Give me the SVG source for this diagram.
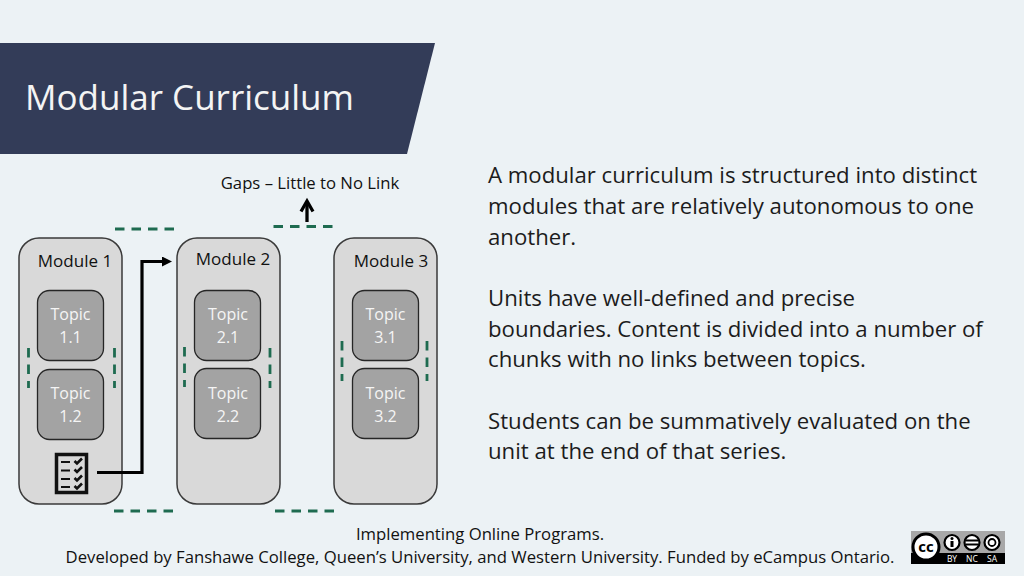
<svg xmlns="http://www.w3.org/2000/svg" width="1024" height="576" viewBox="0 0 1024 576">
<style>
text{font-family:"Open Sans","Noto Sans","Liberation Sans",sans-serif}
.mod{fill:#d9d9d9;stroke:#3a3a3a;stroke-width:1.5}
.top{fill:#a3a3a3;stroke:#262626;stroke-width:1.3}
.ml{font-size:17px;fill:#111;text-anchor:middle}
.tl{font-size:16px;fill:#f5f5f5;text-anchor:middle}
.body{font-size:22.200px;fill:#1c1c1c}
.foot{font-size:16.700px;fill:#111;text-anchor:middle}
.gap{stroke:#1e6b50;stroke-width:2.800;stroke-dasharray:9.500 7;fill:none}
.link{stroke:#000;stroke-width:3.200;fill:none}
</style>
<defs>
<marker id="ah" markerWidth="12" markerHeight="12" refX="1" refY="5" orient="auto" markerUnits="userSpaceOnUse"><path d="M0 0L10 5L0 10z" fill="#000"/></marker>
</defs>
<rect width="1024" height="576" fill="#ecf2f5"/>
<g id="header"><polygon points="0,43 435,43 407,154 0,154" fill="#333c58"/><text x="25" y="110" font-size="35" fill="#f4f4f4">Modular Curriculum</text></g>
<g id="module1"><rect class="mod" x="19" y="238" width="103" height="266" rx="20"/><text class="ml" x="75" y="267">Module 1</text></g>
<g id="module2"><rect class="mod" x="177" y="238" width="103" height="266" rx="20"/><text class="ml" x="233" y="265">Module 2</text></g>
<g id="module3"><rect class="mod" x="334" y="238" width="103" height="266" rx="20"/><text class="ml" x="391" y="267">Module 3</text></g>
<g id="topic11"><rect class="top" x="37.500" y="290.500" width="66" height="70" rx="12"/><text class="tl" x="70.500" y="320">Topic</text><text class="tl" x="70.500" y="343">1.1</text></g>
<g id="topic12"><rect class="top" x="37.500" y="369.500" width="66" height="70" rx="12"/><text class="tl" x="70.500" y="399">Topic</text><text class="tl" x="70.500" y="422">1.2</text></g>
<g id="topic21"><rect class="top" x="194.500" y="290.500" width="66" height="70" rx="12"/><text class="tl" x="228" y="320">Topic</text><text class="tl" x="228" y="343">2.1</text></g>
<g id="topic22"><rect class="top" x="194.500" y="368.500" width="66" height="70" rx="12"/><text class="tl" x="228" y="399">Topic</text><text class="tl" x="228" y="422">2.2</text></g>
<g id="topic31"><rect class="top" x="352.500" y="290.500" width="66" height="70" rx="12"/><text class="tl" x="385.500" y="320">Topic</text><text class="tl" x="385.500" y="343">3.1</text></g>
<g id="topic32"><rect class="top" x="352.500" y="368.500" width="66" height="70" rx="12"/><text class="tl" x="385.500" y="399">Topic</text><text class="tl" x="385.500" y="422">3.2</text></g>
<g id="checklist">
<rect x="56.500" y="454.500" width="30" height="38" fill="none" stroke="#111" stroke-width="3.500"/>
<path d="M61 462h9M61 470.500h9M61 479h9M61 487h9" stroke="#111" stroke-width="2.200" fill="none"/>
<path d="M74.500 461l2.500 2.500l5-5M74.500 469.500l2.500 2.500l5-5M74.500 478l2.500 2.500l5-5M74.500 486l2.500 2.500l5-5" stroke="#111" stroke-width="2.600" fill="none"/>
</g>
<g id="connectors">
<path class="link" d="M97 472.500H142V261.500H163" marker-end="url(#ah)"/>
<path d="M307 222V202" stroke="#000" stroke-width="3.300" fill="none"/>
<path d="M301 211.500L307 201L313 211.500" stroke="#000" stroke-width="3.300" fill="none"/>
<path class="gap" d="M115 229H175"/><path class="gap" d="M114 511H175"/>
<path class="gap" d="M273.500 226.500H334"/><path class="gap" d="M275 511H335"/>
<path class="gap" d="M28.500 348V388"/><path class="gap" d="M114.500 348V388"/>
<path class="gap" d="M184.500 347V387"/><path class="gap" d="M270 348V388"/>
<path class="gap" d="M342 341V381"/><path class="gap" d="M427 341V381"/>
</g>
<g id="gaps-label"><text x="310" y="189" font-size="16.700" fill="#111" text-anchor="middle">Gaps – Little to No Link</text></g>
<g id="body">
<text class="body" x="488" y="183">A modular curriculum is structured into distinct</text>
<text class="body" x="488" y="214">modules that are relatively autonomous to one</text>
<text class="body" x="488" y="245">another.</text>
<text class="body" x="488" y="306">Units have well-defined and precise</text>
<text class="body" x="488" y="337">boundaries. Content is divided into a number of</text>
<text class="body" x="488" y="367">chunks with no links between topics.</text>
<text class="body" x="488" y="429">Students can be summatively evaluated on the</text>
<text class="body" x="488" y="459">unit at the end of that series.</text>
</g>
<g id="footer">
<text class="foot" x="480" y="540">Implementing Online Programs.</text>
<text class="foot" x="480" y="563">Developed by Fanshawe College, Queen’s University, and Western University. Funded by eCampus Ontario.</text>
</g>
<g id="cc-badge">
<rect x="911" y="531" width="94" height="33" fill="#a8a8a8"/>
<rect x="911" y="553" width="94" height="11" fill="#000"/>
<circle cx="926" cy="547" r="13" fill="#fff" stroke="#000" stroke-width="3"/>
<text x="926" y="552" font-size="15" font-weight="700" text-anchor="middle" fill="#000">cc</text>
<circle cx="952" cy="542.500" r="7.500" fill="#fff" stroke="#000" stroke-width="2.200"/>
<circle cx="972" cy="542.500" r="7.500" fill="#fff" stroke="#000" stroke-width="2.200"/>
<circle cx="992" cy="542.500" r="7.500" fill="#fff" stroke="#000" stroke-width="2.200"/>
<rect x="950.500" y="541" width="3" height="6" fill="#000"/><circle cx="952" cy="538.500" r="1.500" fill="#000"/>
<path d="M966 540.500h12M966 544.500h12" stroke="#000" stroke-width="2"/>
<circle cx="992" cy="542.500" r="3.500" fill="none" stroke="#000" stroke-width="1.800"/>
<text x="952" y="562" font-size="8.500" fill="#fff" text-anchor="middle">BY</text>
<text x="972" y="562" font-size="8.500" fill="#fff" text-anchor="middle">NC</text>
<text x="992" y="562" font-size="8.500" fill="#fff" text-anchor="middle">SA</text>
</g>
</svg>
